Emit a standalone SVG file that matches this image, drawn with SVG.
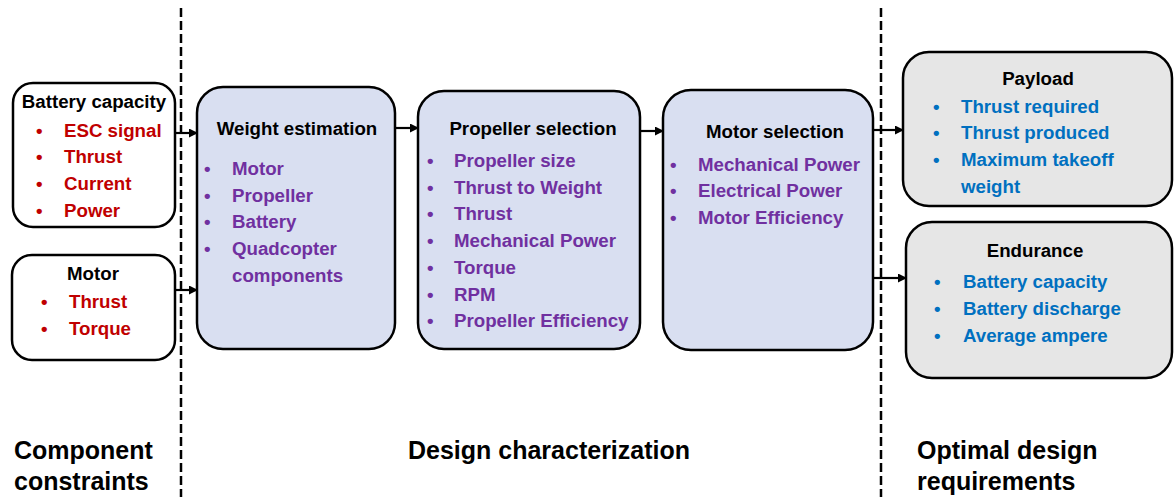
<svg xmlns="http://www.w3.org/2000/svg" width="1174" height="497" viewBox="0 0 1174 497">
<style>
text{font-family:"Liberation Sans",Arial,sans-serif;font-weight:bold;}
.t{font-size:18.7px;fill:#000;}
.r{font-size:18.7px;fill:#C00000;}
.p{font-size:18.7px;fill:#7030A0;}
.b{font-size:18.7px;fill:#0070C0;}
.L{font-size:25px;fill:#000;}
.bw{fill:#fff;stroke:#000;stroke-width:2.5;}
.bb{fill:#D9DFF1;stroke:#000;stroke-width:2.5;}
.bg{fill:#E6E6E6;stroke:#000;stroke-width:2.5;}
.c{stroke:#000;stroke-width:2.2;fill:none;marker-end:url(#ah);}
.d{stroke:#000;stroke-width:2.5;stroke-dasharray:9 4;}
</style>
<defs>
<marker id="ah" markerWidth="9" markerHeight="9" refX="8" refY="4.5" orient="auto" markerUnits="userSpaceOnUse">
<path d="M0,0 L9,4.5 L0,9 Z" fill="#000"/>
</marker>
</defs>
<rect width="1174" height="497" fill="#fff"/>
<g id="dividers">
<line class="d" x1="181" y1="8" x2="181" y2="497"/>
<line class="d" x1="881" y1="8" x2="881" y2="497"/>
</g>
<g id="battery">
<rect class="bw" x="13" y="83" width="162" height="144" rx="20"/>
<text class="t" x="94" y="108" text-anchor="middle">Battery capacity</text>
<text class="r" x="36" y="137">•</text><text class="r" x="64" y="137">ESC signal</text>
<text class="r" x="36" y="163">•</text><text class="r" x="64" y="163">Thrust</text>
<text class="r" x="36" y="190">•</text><text class="r" x="64" y="190">Current</text>
<text class="r" x="36" y="217">•</text><text class="r" x="64" y="217">Power</text>
</g>
<g id="motor">
<rect class="bw" x="12" y="255" width="163" height="105" rx="20"/>
<text class="t" x="93" y="280" text-anchor="middle">Motor</text>
<text class="r" x="41" y="308">•</text><text class="r" x="69" y="308">Thrust</text>
<text class="r" x="41" y="335">•</text><text class="r" x="69" y="335">Torque</text>
</g>
<g id="weight">
<rect class="bb" x="197" y="87" width="198" height="262" rx="26"/>
<text class="t" x="297" y="135" text-anchor="middle">Weight estimation</text>
<text class="p" x="204" y="175">•</text><text class="p" x="232" y="175">Motor</text>
<text class="p" x="204" y="202">•</text><text class="p" x="232" y="202">Propeller</text>
<text class="p" x="204" y="228">•</text><text class="p" x="232" y="228">Battery</text>
<text class="p" x="204" y="255">•</text><text class="p" x="232" y="255">Quadcopter</text>
<text class="p" x="232" y="282">components</text>
</g>
<g id="propeller">
<rect class="bb" x="418" y="91" width="222" height="258" rx="26"/>
<text class="t" x="533" y="135" text-anchor="middle">Propeller selection</text>
<text class="p" x="427" y="167">•</text><text class="p" x="454" y="167">Propeller size</text>
<text class="p" x="427" y="194">•</text><text class="p" x="454" y="194">Thrust to Weight</text>
<text class="p" x="427" y="220">•</text><text class="p" x="454" y="220">Thrust</text>
<text class="p" x="427" y="247">•</text><text class="p" x="454" y="247">Mechanical Power</text>
<text class="p" x="427" y="274">•</text><text class="p" x="454" y="274">Torque</text>
<text class="p" x="427" y="301">•</text><text class="p" x="454" y="301">RPM</text>
<text class="p" x="427" y="327">•</text><text class="p" x="454" y="327">Propeller Efficiency</text>
</g>
<g id="motorsel">
<rect class="bb" x="663" y="90" width="210" height="260" rx="28"/>
<text class="t" x="775" y="138" text-anchor="middle">Motor selection</text>
<text class="p" x="670" y="171">•</text><text class="p" x="698" y="171">Mechanical Power</text>
<text class="p" x="670" y="197">•</text><text class="p" x="698" y="197">Electrical Power</text>
<text class="p" x="670" y="224">•</text><text class="p" x="698" y="224">Motor Efficiency</text>
</g>
<g id="payload">
<rect class="bg" x="903" y="52" width="269" height="154" rx="26"/>
<text class="t" x="1038" y="85" text-anchor="middle">Payload</text>
<text class="b" x="933" y="113">•</text><text class="b" x="961" y="113">Thrust required</text>
<text class="b" x="933" y="139">•</text><text class="b" x="961" y="139">Thrust produced</text>
<text class="b" x="933" y="166">•</text><text class="b" x="961" y="166">Maximum takeoff</text>
<text class="b" x="961" y="193">weight</text>
</g>
<g id="endurance">
<rect class="bg" x="906" y="222" width="266" height="156" rx="26"/>
<text class="t" x="1035" y="257" text-anchor="middle">Endurance</text>
<text class="b" x="934" y="288">•</text><text class="b" x="963" y="288">Battery capacity</text>
<text class="b" x="934" y="315">•</text><text class="b" x="963" y="315">Battery discharge</text>
<text class="b" x="934" y="342">•</text><text class="b" x="963" y="342">Average ampere</text>
</g>
<g id="connectors">
<line class="c" x1="176" y1="133" x2="197" y2="133"/>
<line class="c" x1="176" y1="290" x2="197" y2="290"/>
<line class="c" x1="396" y1="128" x2="418" y2="128"/>
<line class="c" x1="641" y1="131" x2="663" y2="131"/>
<line class="c" x1="874" y1="130" x2="903" y2="130"/>
<line class="c" x1="874" y1="278" x2="906" y2="278"/>
</g>
<g id="labels">
<text class="L" x="14" y="459">Component</text>
<text class="L" x="14" y="490">constraints</text>
<text class="L" x="408" y="459">Design characterization</text>
<text class="L" x="917" y="459">Optimal design</text>
<text class="L" x="917" y="490">requirements</text>
</g>
</svg>
